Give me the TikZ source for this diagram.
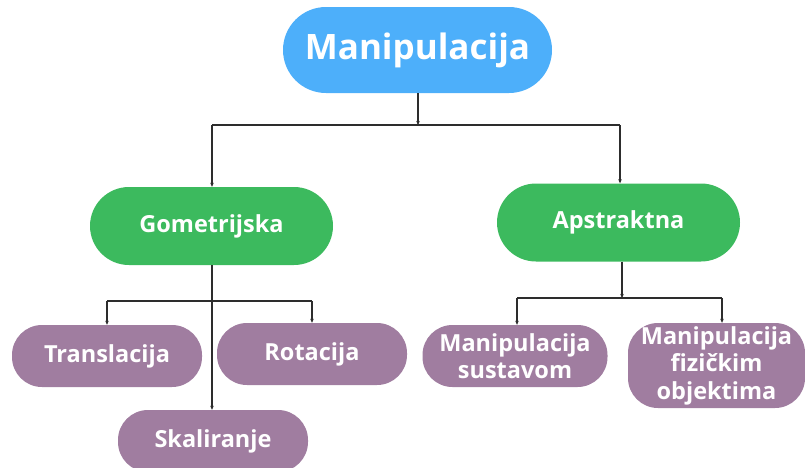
\documentclass[tikz,border=0pt]{standalone}
\usepackage{fontspec}
\setmainfont{Open Sans}
\usetikzlibrary{arrows.meta}
\definecolor{topblue}{RGB}{77,175,250}
\definecolor{nodegreen}{RGB}{60,186,94}
\definecolor{nodepurple}{RGB}{160,125,160}
\definecolor{linegray}{RGB}{45,45,45}
\tikzset{
  pill/.style={rounded corners=#1, text=white, align=center, inner sep=0pt, font=\bfseries},
  topnode/.style={pill=43pt, fill=topblue, minimum width=269pt, minimum height=86pt, font=\bfseries\fontsize{35}{40}\selectfont},
  greennode/.style={pill=39pt, fill=nodegreen, minimum width=243pt, minimum height=78pt, font=\bfseries\fontsize{23.5}{27}\selectfont},
  purplenode/.style={pill=30pt, fill=nodepurple, minimum width=190pt, minimum height=62pt, font=\bfseries\fontsize{23.5}{27.5}\selectfont},
  conn/.style={draw=linegray, line width=1.1pt},
  tip/.style={conn, -{Stealth[length=4pt,width=3.5pt]}}
}
\begin{document}
\begin{tikzpicture}[x=1pt,y=-1pt]
\useasboundingbox (0,0) rectangle (805,467);
\node[topnode] (top) at (417.5,50) {Manipulacija};
\node[greennode] (geo) at (211.5,226) {Gometrijska};
\node[greennode] (aps) at (618.5,222.5) {Apstraktna};
\node[purplenode] (tra) at (107,356) {Translacija};
\node[purplenode] (rot) at (312,354) {Rotacija};
\node[purplenode] (ska) at (213,441) {Skaliranje};
\node[purplenode, minimum width=185pt] (sus) at (515,356) {Manipulacija\\sustavom};
\node[purplenode, minimum width=177pt, minimum height=85pt] (fiz) at (716.5,365.5) {Manipulacija\\fizičkim\\objektima};
% junctions
\coordinate (j0) at (418,125);
\coordinate (j0l) at (212,125);
\coordinate (j0r) at (620,125);
\coordinate (j1) at (212,301);
\coordinate (j1l) at (107,301);
\coordinate (j1r) at (312,301);
\coordinate (j2) at (622,298);
\coordinate (j2l) at (517,298);
\coordinate (j2r) at (722,298);
% connectors
\draw[tip] (top.south -| j0) -- (j0);
\draw[conn] (j0l) -- (j0r);
\draw[tip] (j0l) -- (j0l |- geo.north);
\draw[tip] (j0r) -- (j0r |- aps.north);
\draw[tip] (geo.south -| j1) -- (j1 |- ska.north);
\draw[conn] (j1l) -- (j1r);
\draw[tip] (j1l) -- (j1l |- tra.north);
\draw[tip] (j1r) -- (j1r |- rot.north);
\draw[tip] (aps.south -| j2) -- (j2);
\draw[conn] (j2l) -- (j2r);
\draw[tip] (j2l) -- (j2l |- sus.north);
\draw[tip] (j2r) -- (j2r |- fiz.north);
\end{tikzpicture}
\end{document}
